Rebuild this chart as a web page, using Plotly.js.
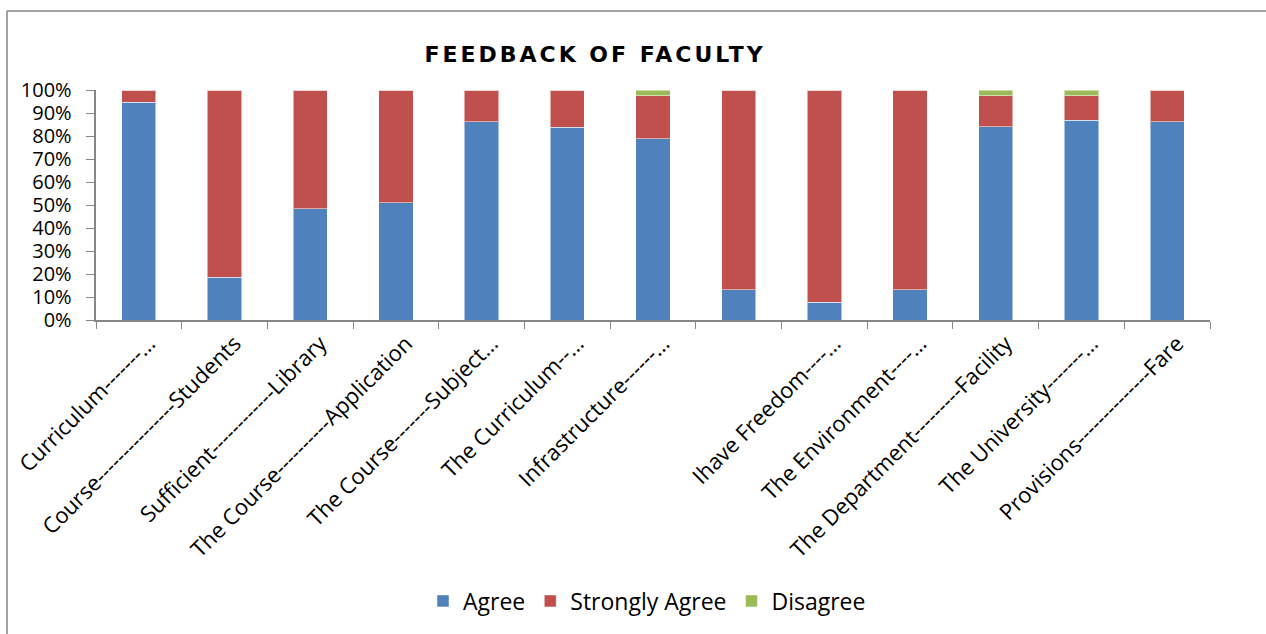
<!DOCTYPE html>
<html>
<head>
<meta charset="utf-8">
<script src="https://cdn.plot.ly/plotly-3.0.1.min.js"></script>
<style>
html,body{margin:0;padding:0;background:#fff;}
#chart{width:1266px;height:634px;}
#chart .gtitle {letter-spacing:3px;}
</style>
</head>
<body>
<div id="chart"></div>
<script>
const xLabels = [
  "Curriculum-------…",
  "Course---------------Students",
  "Sufficient------------Library",
  "The Course----------Application",
  "The Course-------Subject…",
  "The Curriculum--…",
  "Infrastructure------…",
  " ",
  "Ihave Freedom----…",
  "The Environment----…",
  "The Department---------Facility",
  "The University-------…",
  "Provisions--------------Fare"
];
const agree          = [0.946, 0.186, 0.484, 0.510, 0.863, 0.837, 0.788, 0.131, 0.078, 0.131, 0.840, 0.868, 0.863];
const stronglyAgree  = [0.054, 0.814, 0.516, 0.490, 0.137, 0.163, 0.187, 0.869, 0.922, 0.869, 0.135, 0.107, 0.137];
const disagree       = [0,     0,     0,     0,     0,     0,     0.025, 0,     0,     0,     0.025, 0.025, 0];
const seriesNames = ["Agree", "Strongly Agree", "Disagree"];
const seriesColors = ["#4F81BD", "#C0504D", "#9BBB59"];

const font = "'Open Sans', Lato, sans-serif";
const data = [agree, stronglyAgree, disagree].map((v, i) => ({
  type: "bar",
  name: seriesNames[i],
  x: xLabels,
  y: v,
  marker: {color: seriesColors[i], line: {color: "rgba(255,255,255,0.5)", width: 1}},
  hoverinfo: "skip"
}));

const px = x => (x - 96) / 1114;
const py = y => (320 - y) / 230;

const layout = {
  width: 1266, height: 634,
  margin: {l: 96, r: 56, t: 90, b: 314},
  barmode: "stack",
  bargap: 0.6,
  paper_bgcolor: "#fff", plot_bgcolor: "#fff",
  font: {family: font, size: 20, color: "#000"},
  title: {text: "<b>FEEDBACK OF FACULTY</b>", font: {family: "'DejaVu Sans', sans-serif", size: 22, color: "#000"},
          x: 595/1266, xanchor: "center", y: 1 - 54/634, yanchor: "middle", xref: "container", yref: "container"},
  xaxis: {
    type: "category", tickangle: -45, ticks: "outside", tickson: "boundaries", ticklen: 7,
    tickcolor: "#868686", showline: true, linecolor: "#868686", linewidth: 2,
    showgrid: false, zeroline: false, tickfont: {family: font, size: 22, color: "#000"},
    ticklabelshift: 10
  },
  yaxis: {
    range: [0, 1], dtick: 0.1, tickformat: ".0%", ticks: "outside", ticklen: 8,
    tickcolor: "#868686", showline: true, linecolor: "#868686", linewidth: 2,
    showgrid: false, zeroline: false, tickfont: {family: font, size: 20, color: "#000"}, ticksuffix: "  "
  },
  showlegend: true,
  legend: {orientation: "h", x: px(647), xanchor: "center", y: py(601), yanchor: "middle",
           font: {family: font, size: 23, color: "#000"}, traceorder: "normal"},
  shapes: [
    {type: "line", xref: "paper", yref: "paper", x0: px(7), x1: px(7), y0: py(11), y1: py(640), line: {color: "#868686", width: 1.5}},
    {type: "line", xref: "paper", yref: "paper", x0: px(7), x1: px(1270), y0: py(11), y1: py(11), line: {color: "#868686", width: 1.5}}
  ]
};

Plotly.newPlot("chart", data, layout, {displayModeBar: false, staticPlot: true});
</script>
</body>
</html>
